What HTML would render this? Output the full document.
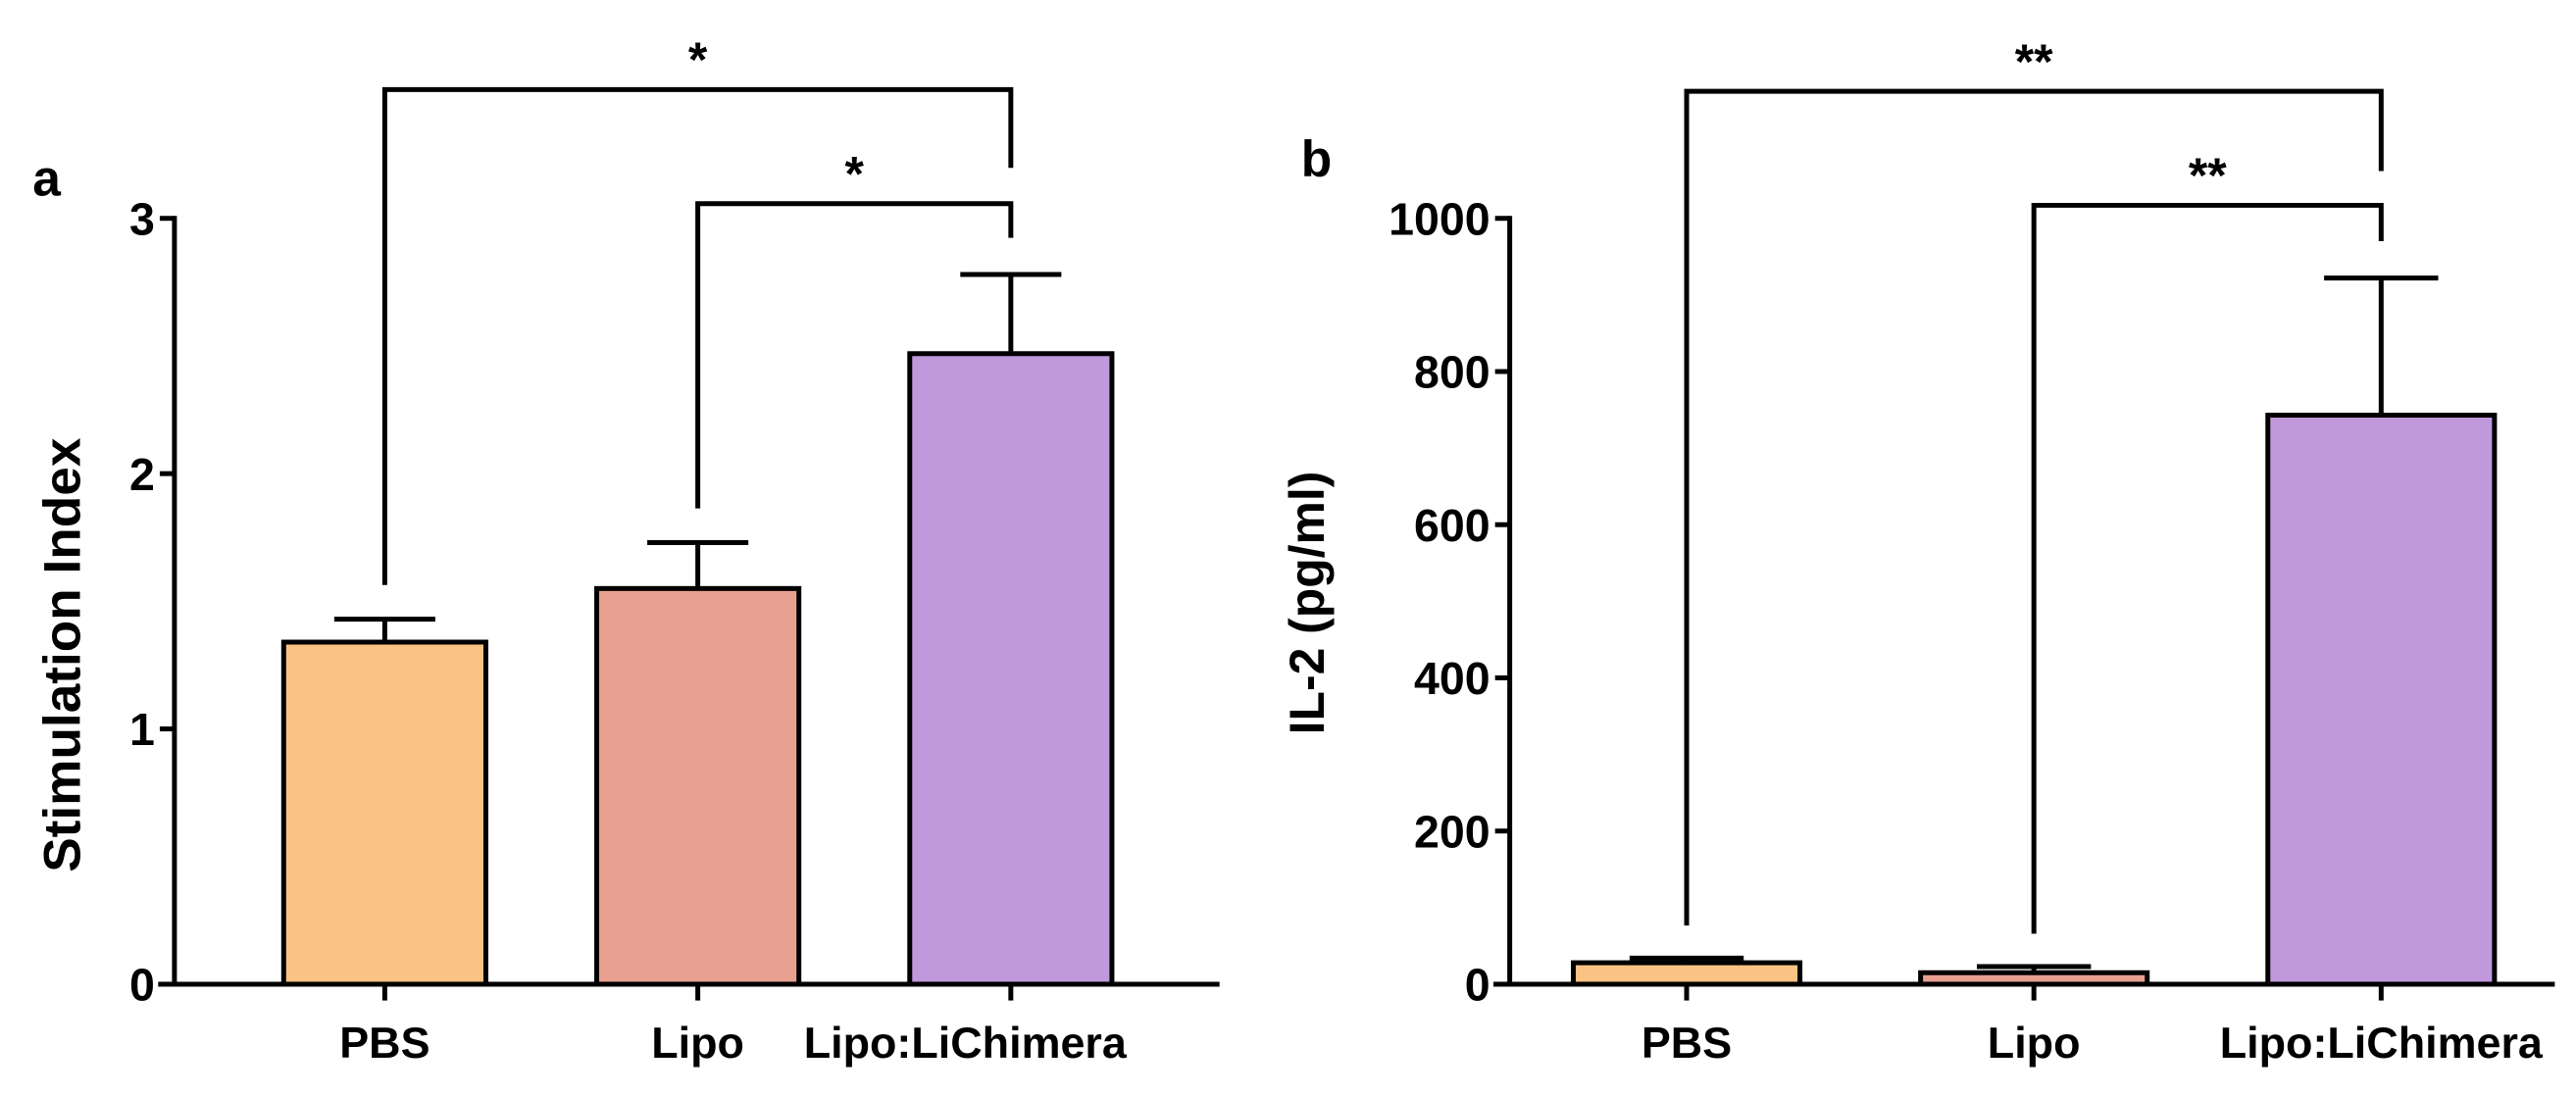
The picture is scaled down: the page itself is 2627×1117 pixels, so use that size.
<!DOCTYPE html>
<html><head><meta charset="utf-8"><style>
html,body{margin:0;padding:0;background:#fff;}
svg{display:block;font-family:"Liberation Sans",Arial,sans-serif;font-weight:bold;}
</style></head><body>
<svg id="fig" width="2627" height="1117" viewBox="0 0 1580 672" preserveAspectRatio="none" xmlns="http://www.w3.org/2000/svg"></svg>
<script>
const categories = ["PBS", "Lipo", "Lipo:LiChimera"];
const colors = ["#fbc383", "#e8a090", "#c098dc"];
const siValues = [1.34, 1.55, 2.47];
const siErrors = [0.09, 0.18, 0.31];
const siTicks = [0, 1, 2, 3];
const il2Values = [28, 15, 743];
const il2Errors = [6, 8, 179];
const il2Ticks = [0, 200, 400, 600, 800, 1000];

const NS = "http://www.w3.org/2000/svg";
const svg = document.getElementById("fig");
function mk(tag, attrs, parent) {
  const e = document.createElementNS(NS, tag);
  for (const k in attrs) e.setAttribute(k, attrs[k]);
  (parent || svg).appendChild(e);
  return e;
}
const LW = 3;

function panel(cfg) {
  const g = mk("g", {});
  
  
  const y = v => cfg.y0 - (v / cfg.max) * (cfg.y0 - cfg.yTop);
  const xc = i => cfg.barX[i] + cfg.barW / 2;
  cfg.values.forEach((v, i) => {
    const top = y(v);
    const r = mk("rect", {x: cfg.barX[i], y: top, width: cfg.barW, height: cfg.y0 - top, fill: colors[i], stroke: "#000", "stroke-width": LW}, g);
    
    
    const et = y(v + cfg.errors[i]);
    const e1 = mk("line", {x1: xc(i), x2: xc(i), y1: top, y2: et, stroke: "#000", "stroke-width": LW}, g);
    
    
    const e2 = mk("line", {x1: xc(i) - cfg.cap, x2: xc(i) + cfg.cap, y1: et, y2: et, stroke: "#000", "stroke-width": LW}, g);
    
    
  });
  const ya = mk("line", {x1: cfg.ax, x2: cfg.ax, y1: cfg.yTop - 1.5, y2: cfg.y0, stroke: "#000", "stroke-width": LW}, g);
  
  
  const xa = mk("line", {x1: cfg.ax - 10, x2: cfg.xEnd, y1: cfg.y0, y2: cfg.y0, stroke: "#000", "stroke-width": LW}, g);
  
  
  cfg.ticks.forEach(t => {
    const ty = y(t);
    const tl = mk("line", {x1: cfg.ax - 9, x2: cfg.ax, y1: ty, y2: ty, stroke: "#000", "stroke-width": LW}, g);
    
    
    const tx = mk("text", {x: cfg.ax - 12, y: ty + 10, "text-anchor": "end", "font-size": 28}, g);
    tx.textContent = t;
    
    
  });
  categories.forEach((c, i) => {
    const tl = mk("line", {x1: xc(i), x2: xc(i), y1: cfg.y0, y2: cfg.y0 + 10, stroke: "#000", "stroke-width": LW}, g);
    
    
    const lx = xc(i) + (cfg.labelShift ? cfg.labelShift[i] : 0);
    const tx = mk("text", {x: lx, y: cfg.y0 + 45, "text-anchor": "middle", "font-size": 27}, g);
    tx.textContent = c;
    
    
  });
  const yt = mk("text", {x: 0, y: 0, "text-anchor": "middle", "font-size": cfg.titleSize, transform: `translate(${cfg.titleX},${cfg.titleY}) rotate(-90)`}, g);
  yt.textContent = cfg.title;
  
  
  const pl = mk("text", {x: cfg.letterX, y: cfg.letterY, "font-size": 31}, g);
  pl.textContent = cfg.letter;
  
  
  cfg.brackets.forEach(b => {
    const p = mk("path", {d: `M${xc(b.from)},${b.leftY} V${b.y} H${xc(b.to)} V${b.rightY}`, fill: "none", stroke: "#000", "stroke-width": LW}, g);
    
    
    const s = mk("text", {x: (xc(b.from) + xc(b.to)) / 2, y: b.y - 8, "text-anchor": "middle", "font-size": 30}, g);
    s.textContent = b.label;
    
    
  });
}

panel({name: "panel-a", values: siValues, errors: siErrors, ticks: siTicks, max: 3,
  y0: 604, yTop: 134, ax: 107, xEnd: 748, barX: [174, 366, 558], barW: 124, cap: 31,
  labelShift: [0, 0, -28],
  title: "Stimulation Index", titleSize: 32, titleX: 49, titleY: 402, letter: "a", letterX: 20, letterY: 120,
  brackets: [{from: 0, to: 2, y: 55, leftY: 359, rightY: 103, label: "*"},
             {from: 1, to: 2, y: 125, leftY: 312, rightY: 146, label: "*"}]});
panel({name: "panel-b", values: il2Values, errors: il2Errors, ticks: il2Ticks, max: 1000,
  y0: 604, yTop: 134, ax: 926, xEnd: 1567, barX: [965, 1178, 1391], barW: 139, cap: 35,
  title: "IL-2 (pg/ml)", titleSize: 30, titleX: 812, titleY: 370, letter: "b", letterX: 798, letterY: 108,
  brackets: [{from: 0, to: 2, y: 56, leftY: 568, rightY: 105, label: "**"},
             {from: 1, to: 2, y: 126, leftY: 573, rightY: 148, label: "**"}]});
</script>
</body></html>
